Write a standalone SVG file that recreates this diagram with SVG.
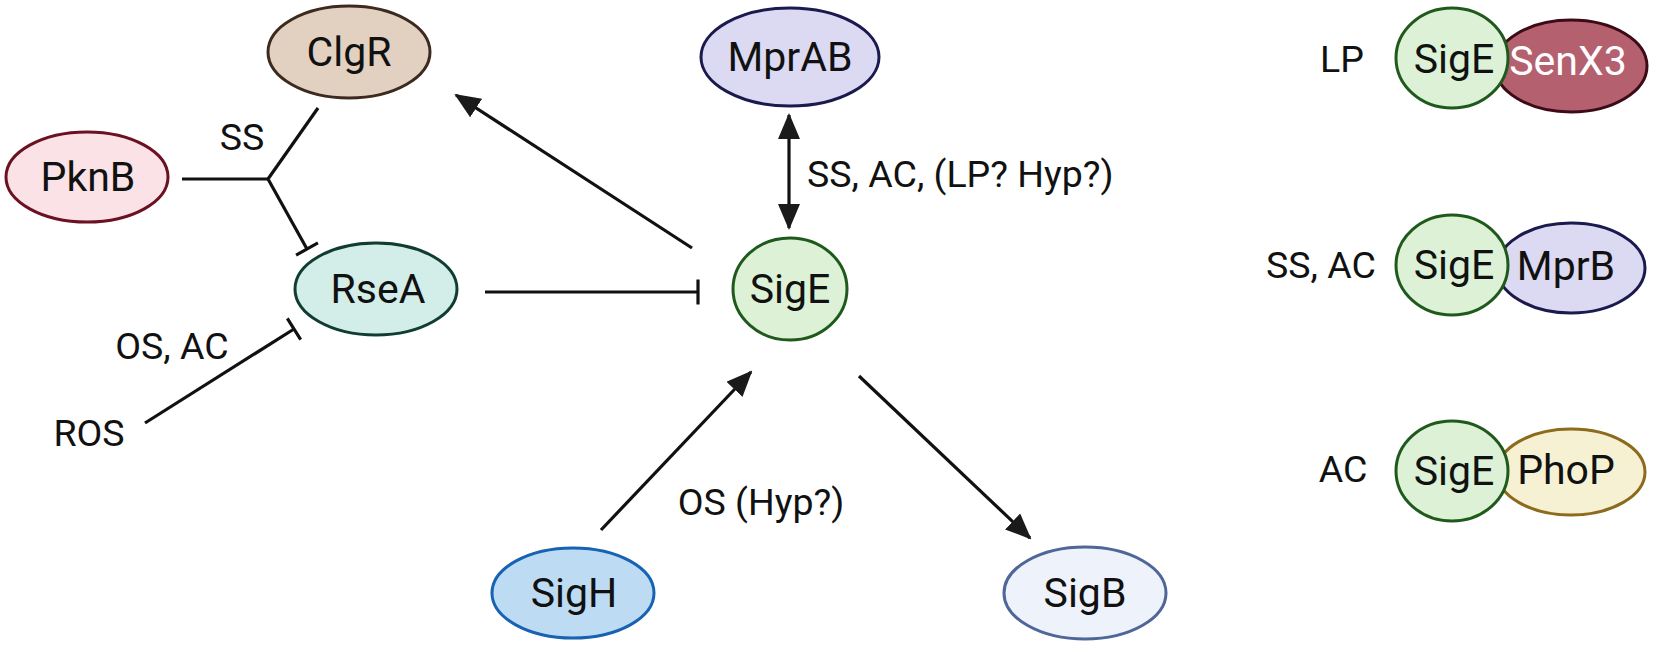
<svg xmlns="http://www.w3.org/2000/svg" width="1654" height="647" viewBox="0 0 1654 647">
<style>
  .node { stroke-width: 3; }
  .nt { font-family: Roboto, "Liberation Sans", sans-serif; font-size: 41px; fill: #111; text-anchor: middle; }
  .lbl { font-family: Roboto, "Liberation Sans", sans-serif; font-size: 37.5px; fill: #111; text-anchor: middle; }
  .edge { stroke: #111; stroke-width: 3.2; fill: none; }
  .sige { fill: #dcf1d5; stroke: #1f5a1c; }
</style>
<defs>
  <marker id="arr" markerUnits="userSpaceOnUse" markerWidth="26" markerHeight="22" viewBox="0 0 26 22" refX="24" refY="11" orient="auto-start-reverse">
    <path d="M0,0 L26,11 L0,22 z" fill="#1a1a1a"/>
  </marker>
  <marker id="tbar" markerUnits="userSpaceOnUse" markerWidth="4" markerHeight="28" viewBox="-2 -14 4 28" refX="0" refY="0" orient="auto">
    <line x1="0" y1="-12.5" x2="0" y2="12.5" stroke="#111" stroke-width="3.2"/>
  </marker>
</defs>
<rect width="1654" height="647" fill="#fff"/>

<g id="connectors">
  <line class="edge" x1="182" y1="179" x2="268" y2="179"/>
  <line class="edge" x1="318" y1="108" x2="268" y2="179"/>
  <line class="edge" x1="268" y1="179" x2="307" y2="249" marker-end="url(#tbar)"/>
  <line class="edge" x1="145" y1="423" x2="294" y2="329" marker-end="url(#tbar)"/>
  <line class="edge" x1="485" y1="292" x2="698" y2="292" marker-end="url(#tbar)"/>
  <line class="edge" x1="692" y1="248" x2="456" y2="95" marker-end="url(#arr)"/>
  <line class="edge" x1="789" y1="115" x2="789" y2="228" marker-start="url(#arr)" marker-end="url(#arr)"/>
  <line class="edge" x1="601" y1="530" x2="751" y2="372" marker-end="url(#arr)"/>
  <line class="edge" x1="859" y1="376" x2="1030" y2="538" marker-end="url(#arr)"/>
</g>

<g id="labels">
  <text class="lbl" x="242" y="150">SS</text>
  <text class="lbl" x="172" y="359">OS, AC</text>
  <text class="lbl" x="89" y="446">ROS</text>
  <text class="lbl" x="807" y="187" style="text-anchor:start">SS, AC, (LP? Hyp?)</text>
  <text class="lbl" x="761" y="515">OS (Hyp?)</text>
  <text class="lbl" x="1342" y="72">LP</text>
  <text class="lbl" x="1321" y="278">SS, AC</text>
  <text class="lbl" x="1343" y="482">AC</text>
</g>

<g id="ClgR">
  <ellipse class="node" cx="349" cy="52" rx="81" ry="46" fill="#e2d0c1" stroke="#3d2a1e"/>
  <text class="nt" x="349" y="66">ClgR</text>
</g>
<g id="PknB">
  <ellipse class="node" cx="87" cy="177" rx="81" ry="45" fill="#fae2e6" stroke="#6b1222"/>
  <text class="nt" x="88" y="191">PknB</text>
</g>
<g id="RseA">
  <ellipse class="node" cx="376" cy="289" rx="81" ry="46" fill="#d3ede8" stroke="#113d30"/>
  <text class="nt" x="378" y="303">RseA</text>
</g>
<g id="MprAB">
  <ellipse class="node" cx="790" cy="57" rx="89" ry="49" fill="#dcdaf2" stroke="#1b1a4e"/>
  <text class="nt" x="790" y="71">MprAB</text>
</g>
<g id="SigE">
  <ellipse class="node sige" cx="790" cy="289" rx="57" ry="51"/>
  <text class="nt" x="790" y="303">SigE</text>
</g>
<g id="SigH">
  <ellipse class="node" cx="573" cy="593" rx="81" ry="45" fill="#bddcf4" stroke="#1762b2"/>
  <text class="nt" x="574" y="607">SigH</text>
</g>
<g id="SigB">
  <ellipse class="node" cx="1085" cy="593" rx="81" ry="46" fill="#eef2fa" stroke="#4f6699"/>
  <text class="nt" x="1085" y="607">SigB</text>
</g>

<g id="SigE-SenX3">
  <ellipse class="node" cx="1571" cy="66" rx="76" ry="46" fill="#b5606f" stroke="#3b0c17"/>
  <text class="nt" x="1568" y="75" style="fill:#fff">SenX3</text>
  <ellipse class="node sige" cx="1452" cy="58" rx="56" ry="50"/>
  <text class="nt" x="1454" y="73">SigE</text>
</g>
<g id="SigE-MprB">
  <ellipse class="node" cx="1571" cy="268" rx="74" ry="45" fill="#dcdaf2" stroke="#1b1a4e"/>
  <text class="nt" x="1566" y="280">MprB</text>
  <ellipse class="node sige" cx="1452" cy="265" rx="56" ry="50"/>
  <text class="nt" x="1454" y="279">SigE</text>
</g>
<g id="SigE-PhoP">
  <ellipse class="node" cx="1571" cy="472" rx="74" ry="43" fill="#f7f1d4" stroke="#8c6b1d"/>
  <text class="nt" x="1566" y="484">PhoP</text>
  <ellipse class="node sige" cx="1452" cy="471" rx="56" ry="50"/>
  <text class="nt" x="1454" y="485">SigE</text>
</g>
</svg>
